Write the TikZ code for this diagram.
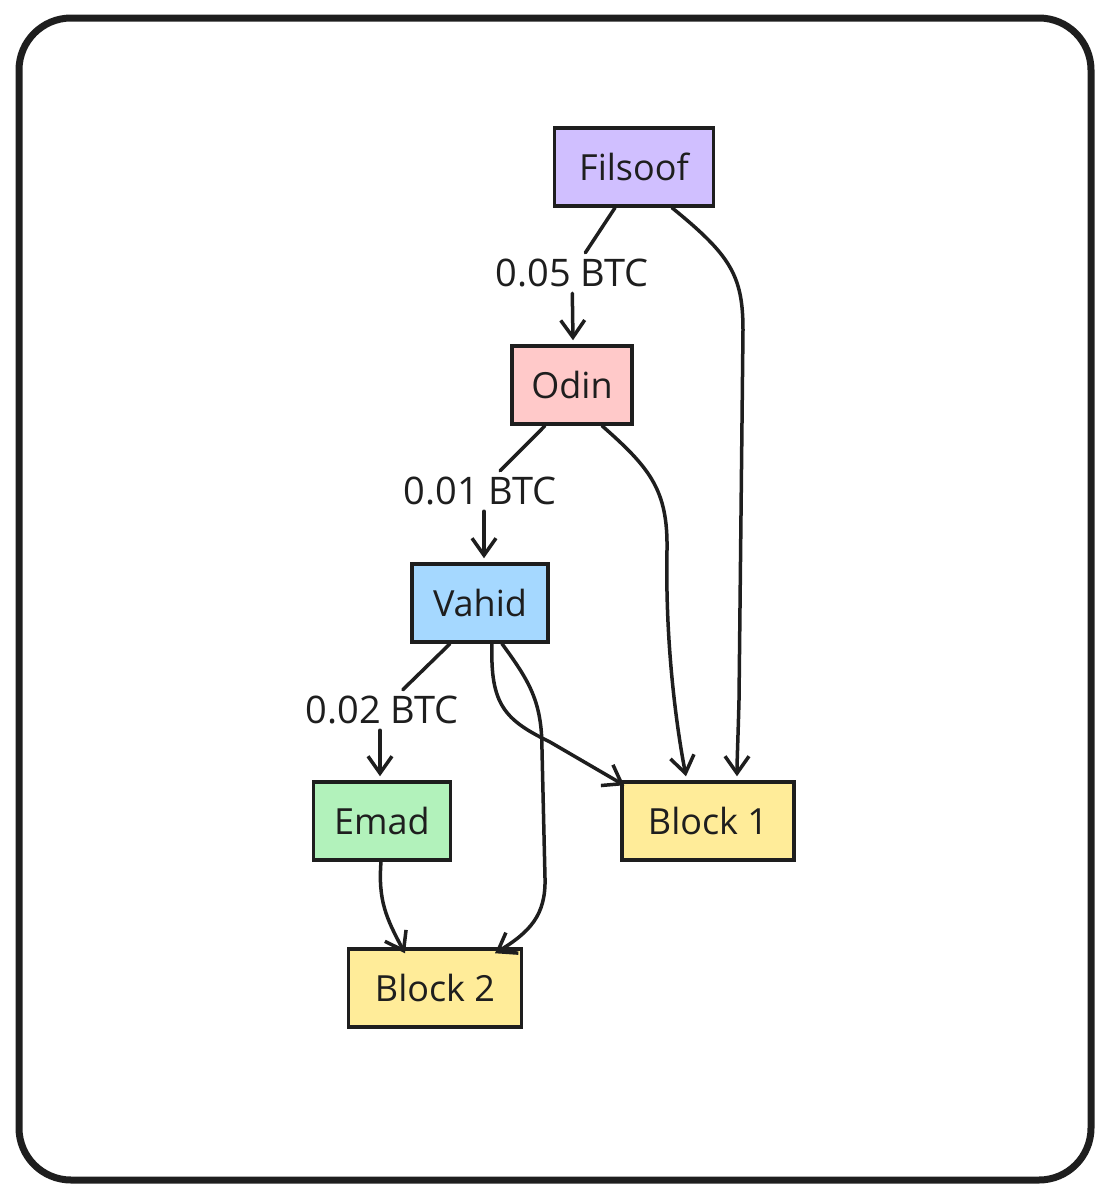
\documentclass[tikz,border=0pt]{standalone}
\usepackage{fontspec}
\setmainfont{Open Sans}
\usetikzlibrary{arrows.meta}
\definecolor{ink}{HTML}{1E1E1E}
\definecolor{cviolet}{HTML}{D0BFFF}
\definecolor{cred}{HTML}{FFC9C9}
\definecolor{cblue}{HTML}{A5D8FF}
\definecolor{cgreen}{HTML}{B2F2BB}
\definecolor{cyellow}{HTML}{FFEC99}
\tikzset{
  box/.style={draw=ink, line width=3.5pt, minimum height=78pt, inner sep=0pt,
    font=\fontsize{36}{40}\selectfont, text=ink},
  lbl/.style={fill=white, inner xsep=4pt, inner ysep=6pt, font=\fontsize{38}{42}\selectfont, text=ink},
  conn/.style={draw=ink, line width=3.5pt, line cap=round, line join=round},
  arr/.style={conn, -{Straight Barb[length=17pt, width=24pt, line width=3.5pt]}},
}
\begin{document}
\begin{tikzpicture}[x=1pt, y=-1pt]
\useasboundingbox (0,0) rectangle (1111,1200);
\draw[draw=ink, line width=7pt, rounded corners=52pt] (19,18) rectangle (1091,1180);

\node[box, fill=cviolet, minimum width=159pt] (fil) at (634,167) {Filsoof};
\node[box, fill=cred, minimum width=120pt] (odin) at (572,385) {Odin};
\node[box, fill=cblue, minimum width=136pt] (vah) at (480,603) {Vahid};
\node[box, fill=cgreen, minimum width=137pt] (emad) at (382,821) {Emad};
\node[box, fill=cyellow, minimum width=172pt] (b1) at (708,821) {Block 1};
\node[box, fill=cyellow, minimum width=173pt] (b2) at (435,988) {Block 2};

\node[lbl] (l1) at (572,273) {0.05 BTC};
\node[lbl] (l2) at (480,491) {0.01 BTC};
\node[lbl] (l3) at (382,710) {0.02 BTC};

% Filsoof -> Odin
\draw[conn] ([xshift=-19pt]fil.south) -- (l1);
\draw[arr] (l1) -- ([xshift=1pt, yshift=4pt]odin.north);
% Odin -> Vahid
\draw[conn] ([xshift=-27pt]odin.south) -- (l2);
\draw[arr] ([xshift=4pt]l2.south) -- ([xshift=4pt, yshift=4pt]vah.north);
% Vahid -> Emad
\draw[conn] ([xshift=-30pt]vah.south) -- (l3);
\draw[arr] ([xshift=-2pt]l3.south) -- ([xshift=-2pt, yshift=4pt]emad.north);

% Filsoof -> Block 1
\draw[arr] ([xshift=38pt]fil.south) .. controls (730,255) and (743,275) .. (743,330)
  -- (739,700) .. controls (738,740) and (737,760) .. ([xshift=29pt, yshift=4pt]b1.north);
% Odin -> Block 1
\draw[arr] ([xshift=30pt]odin.south) .. controls (650,468) and (668,490) .. (667,550)
  .. controls (665,650) and (678,735) .. ([xshift=-22pt, yshift=4pt]b1.north);
% Vahid -> Block 1
\draw[arr] ([xshift=12pt]vah.south) .. controls (490,705) and (505,720) .. (550,742)
  -- ([xshift=4pt, yshift=-5pt]b1.north west);
% Vahid -> Block 2
\draw[arr] ([xshift=22pt]vah.south) .. controls (530,682) and (542,702) .. (542,750)
  -- (545,878) .. controls (546,915) and (530,932) .. ([xshift=60pt, yshift=-6pt]b2.north);
% Emad -> Block 2
\draw[arr] ([xshift=-1pt]emad.south) .. controls (378,900) and (386,918) .. ([xshift=-30pt, yshift=-6pt]b2.north);
\end{tikzpicture}
\end{document}
